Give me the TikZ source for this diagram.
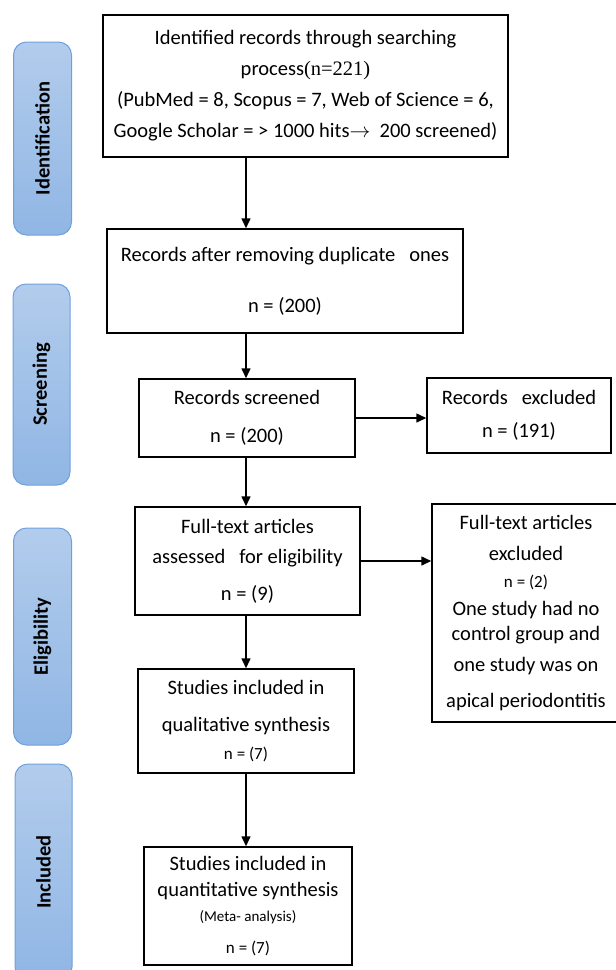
\documentclass[tikz,border=0pt]{standalone}
\usepackage{fontspec}
\setmainfont{Carlito}
\newfontfamily\timesfont{Liberation Serif}
\usepackage{graphicx}
\usetikzlibrary{arrows.meta}
\definecolor{barTop}{RGB}{178,204,236}
\definecolor{barBot}{RGB}{144,182,228}
\definecolor{barLine}{RGB}{112,160,220}
\newcommand{\nsmall}{\fontsize{17}{18}\selectfont}
\newcommand{\msmall}{\fontsize{15}{18}\selectfont}

\begin{document}
\begin{tikzpicture}[x=1pt,y=-1pt,
  box/.style={draw, line width=1.5pt, inner sep=0pt, align=center, font=\fontsize{20.5}{31}\selectfont},
  phase/.style={draw=barLine, line width=1pt, rounded corners=13pt, top color=barTop, bottom color=barBot, inner sep=0pt, minimum width=58pt, font=\fontsize{20.5}{24}\selectfont\bfseries},
  arr/.style={-{Triangle[length=10pt,width=9pt]}, line width=1.5pt}]

\useasboundingbox (0,0) rectangle (616,970);
\clip (0,0) rectangle (616,970);

% phases on the left
\node [phase, minimum height=193pt] (idbar) at (42.5,138.5) {\rotatebox{90}{Identification}};
\node [phase, minimum width=57pt, minimum height=201pt] (scbar) at (41.5,384.5) {\rotatebox{90}{Screening}};
\node [phase, minimum height=217pt] (elbar) at (42.5,636.5) {\rotatebox{90}{Eligibility}};
\node [phase, minimum width=57pt, minimum height=216pt] (inbar) at (43.5,872) {\rotatebox{90}{Included}};

% boxes
\node [box, minimum width=405pt, minimum height=142pt] (ident) at (305.5,86) {Identified records through searching\\ process{\timesfont(n=221)}\\ (PubMed = 8, Scopus = 7, Web of Science = 6,\\ Google Scholar = > 1000 hits$\rightarrow$\ \ 200 screened)};
\node [box, minimum width=356pt, minimum height=104pt] (dup) at (285,281) {Records after removing duplicate\ \ \ ones\\[20pt] n = (200)};
\node [box, minimum width=216pt, minimum height=78pt] (screen) at (247,418) {Records screened\\[7pt] n = (200)};
\node [box, minimum width=184pt, minimum height=75pt] (excl) at (519,415.5) {Records\ \ \ excluded\\[2pt] n = (191)};
\node [box, minimum width=225pt, minimum height=108pt] (full) at (247.5,561) {Full-text articles\\[-1pt] assessed\ \ \ for eligibility\\[6pt] n = (9)};
\node [box, minimum width=188pt, minimum height=218pt] (fullx) at (526,613) {Full-text articles\\ excluded\\[-4pt] {\nsmall n = (2)}\\[-3pt] One study had no\\[-6pt] control group and\\ one study was on\\[5pt] apical periodontitis};
\node [box, minimum width=216pt, minimum height=104pt] (qual) at (246,721) {Studies included in\\[6pt] qualitative synthesis\\[-3pt] {\nsmall n = (7)}};
\node [box, minimum width=208pt, minimum height=118pt] (quant) at (248,906) {Studies included in\\[-5pt] quantitative synthesis\\[-6pt] {\msmall (Meta- analysis)}\\[1pt] {\nsmall n = (7)}};

% arrows
\coordinate (spine) at (246,0);
\draw [arr] (ident.south -| spine) -- (dup.north -| spine);
\draw [arr] (dup.south -| spine) -- (screen.north -| spine);
\draw [arr] (screen.south -| spine) -- (full.north -| spine);
\draw [arr] (full.south -| spine) -- (qual.north -| spine);
\draw [arr] (qual.south -| spine) -- (quant.north -| spine);
\draw [arr] (screen.east) -- (screen.east -| excl.west);
\draw [arr] (full.east) -- (full.east -| fullx.west);
\end{tikzpicture}
\end{document}
